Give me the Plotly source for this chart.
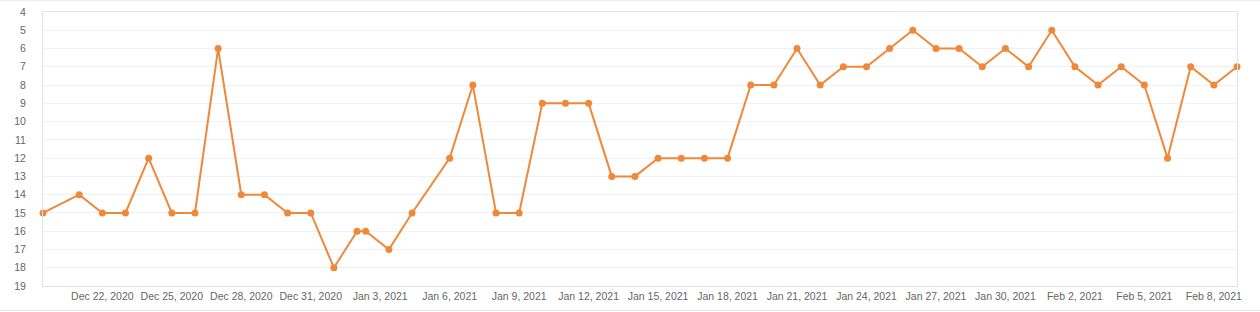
import plotly.graph_objects as go

dates = [
    "2020-12-19 10:30", "2020-12-21", "2020-12-22", "2020-12-23", "2020-12-24",
    "2020-12-25", "2020-12-26", "2020-12-27", "2020-12-28", "2020-12-29",
    "2020-12-30", "2020-12-31", "2021-01-01", "2021-01-02", "2021-01-02 09:00",
    "2021-01-03 09:00", "2021-01-04 09:00", "2021-01-06", "2021-01-07", "2021-01-08",
    "2021-01-09", "2021-01-10", "2021-01-11", "2021-01-12", "2021-01-13",
    "2021-01-14", "2021-01-15", "2021-01-16", "2021-01-17", "2021-01-18",
    "2021-01-19", "2021-01-20", "2021-01-21", "2021-01-22", "2021-01-23",
    "2021-01-24", "2021-01-25", "2021-01-26", "2021-01-27", "2021-01-28",
    "2021-01-29", "2021-01-30", "2021-01-31", "2021-02-01", "2021-02-02",
    "2021-02-03", "2021-02-04", "2021-02-05", "2021-02-06", "2021-02-07",
    "2021-02-08", "2021-02-09",
]
ranks = [
    15, 14, 15, 15, 12,
    15, 15, 6, 14, 14,
    15, 15, 18, 16, 16,
    17, 15, 12, 8, 15,
    15, 9, 9, 9, 13,
    13, 12, 12, 12, 12,
    8, 8, 6, 8, 7,
    7, 6, 5, 6, 6,
    7, 6, 7, 5, 7,
    8, 7, 8, 12, 7,
    8, 7,
]
y_ticks = list(range(4, 20))

LINE = "#f0883a"
GRID = "#eef1f5"
BORDER = "#dde3ec"
TXT = "#666666"

fig = go.Figure()
fig.add_trace(go.Scatter(
    x=dates, y=ranks, mode="lines+markers",
    line=dict(color=LINE, width=2),
    marker=dict(color=LINE, size=7),
    showlegend=False,
    cliponaxis=False,
))

fig.update_layout(
    width=1260, height=312,
    margin=dict(l=43, r=23, t=12, b=26, autoexpand=False),
    paper_bgcolor="white", plot_bgcolor="white",
    font=dict(family="Liberation Sans, Arial, sans-serif", size=10, color=TXT),
    xaxis=dict(
        type="date", automargin=False,
        range=[dates[0], dates[-1]],
        tick0="2020-12-22", dtick=3 * 86400000,
        tickformat="%b %-d, %Y",
        showgrid=False, zeroline=False,
        showline=True, linecolor=BORDER, linewidth=1, mirror=True,
        ticks="", tickfont=dict(size=10.5, color=TXT),
    ),
    yaxis=dict(
        automargin=False,
        range=[19, 4],
        tickvals=y_ticks,
        showgrid=True, gridcolor=GRID, gridwidth=1,
        zeroline=False,
        showline=True, linecolor=BORDER, linewidth=1, mirror=True,
        ticks="", ticklabelstandoff=14,
        tickfont=dict(size=10.5, color=TXT),
    ),
    shapes=[
        dict(type="line", xref="paper", yref="paper", x0=-0.1, x1=1.1,
             y0=1.043, y1=1.043, line=dict(color="#e3e7ee", width=1)),
        dict(type="line", xref="paper", yref="paper", x0=-0.1, x1=1.1,
             y0=-0.0895, y1=-0.0895, line=dict(color="#e3e7ee", width=1)),
    ],
)

fig.write_html("out.html")
